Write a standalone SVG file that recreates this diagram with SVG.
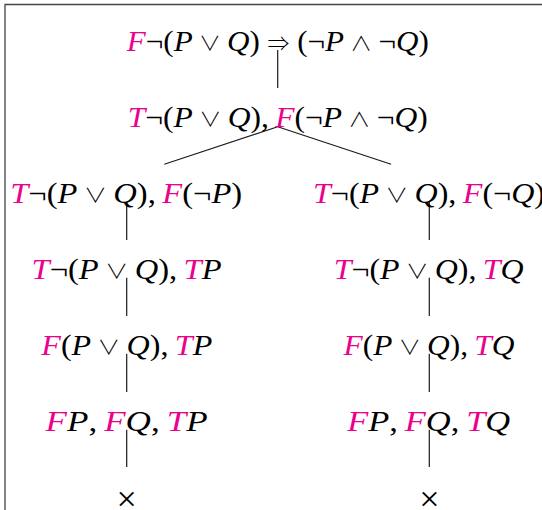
<svg xmlns="http://www.w3.org/2000/svg" width="542" height="510" viewBox="0 0 542 510">
<style>
.t{font-family:"Liberation Serif","DejaVu Serif",serif;font-size:28.5px;fill:#000}
.v{font-style:italic}
.m{font-style:italic;fill:#EC008C}
.o{font-family:"Noto Sans CJK JP","DejaVu Serif",sans-serif;font-size:20px;font-weight:300}
.x{font-family:"Liberation Serif","DejaVu Serif",serif;font-size:36px;fill:#000}
.e{stroke:#1a1a1a;stroke-width:1.2;fill:none}
.frame{stroke:#444;stroke-width:1.3;fill:none}
</style>
<rect width="542" height="510" fill="#fff"/>
<path class="frame" d="M5,510 V4.5 H542"/>
<g id="connectors">
<line class="e" x1="277.7" y1="50" x2="277.7" y2="88"/>
<line class="e" x1="277.7" y1="126.7" x2="164.3" y2="164.3"/>
<line class="e" x1="277.7" y1="126.7" x2="391.1" y2="164.3"/>
<line class="e" x1="126.7" y1="201.7" x2="126.7" y2="240"/>
<line class="e" x1="126.7" y1="277.7" x2="126.7" y2="316"/>
<line class="e" x1="126.7" y1="353.7" x2="126.7" y2="392"/>
<line class="e" x1="126.7" y1="429.7" x2="126.7" y2="467"/>
<line class="e" x1="429.3" y1="201.7" x2="429.3" y2="240"/>
<line class="e" x1="429.3" y1="277.7" x2="429.3" y2="316"/>
<line class="e" x1="429.3" y1="353.7" x2="429.3" y2="392"/>
<line class="e" x1="429.3" y1="429.7" x2="429.3" y2="467"/>
</g>
<g id="n1"><text class="t" x="277.8" y="50.7" text-anchor="middle" textLength="302" lengthAdjust="spacingAndGlyphs"><tspan class="m">F</tspan>¬(<tspan class="v">P</tspan>&#8201;<tspan class="o">∨</tspan>&#8201;<tspan class="v">Q</tspan>) <tspan class="o">⇒</tspan> (¬<tspan class="v">P</tspan>&#8201;<tspan class="o">∧</tspan>&#8201;¬<tspan class="v">Q</tspan>)</text></g>
<g id="n2"><text class="t" x="277.8" y="126.7" text-anchor="middle" textLength="300" lengthAdjust="spacingAndGlyphs"><tspan class="m">T</tspan>¬(<tspan class="v">P</tspan>&#8201;<tspan class="o">∨</tspan>&#8201;<tspan class="v">Q</tspan>),&#8201;<tspan class="m">F</tspan>(¬<tspan class="v">P</tspan>&#8201;<tspan class="o">∧</tspan>&#8201;¬<tspan class="v">Q</tspan>)</text></g>
<g id="n3L"><text class="t" x="126.2" y="202.7" text-anchor="middle" textLength="232" lengthAdjust="spacingAndGlyphs"><tspan class="m">T</tspan>¬(<tspan class="v">P</tspan>&#8201;<tspan class="o">∨</tspan>&#8201;<tspan class="v">Q</tspan>),&#8201;<tspan class="m">F</tspan>(¬<tspan class="v">P</tspan>)</text></g>
<g id="n3R"><text class="t" x="429" y="202.7" text-anchor="middle" textLength="232" lengthAdjust="spacingAndGlyphs"><tspan class="m">T</tspan>¬(<tspan class="v">P</tspan>&#8201;<tspan class="o">∨</tspan>&#8201;<tspan class="v">Q</tspan>),&#8201;<tspan class="m">F</tspan>(¬<tspan class="v">Q</tspan>)</text></g>
<g id="n4L"><text class="t" x="126.6" y="278.7" text-anchor="middle" textLength="190" lengthAdjust="spacingAndGlyphs"><tspan class="m">T</tspan>¬(<tspan class="v">P</tspan>&#8201;<tspan class="o">∨</tspan>&#8201;<tspan class="v">Q</tspan>),&#8201;<tspan class="m">T</tspan><tspan class="v">P</tspan></text></g>
<g id="n4R"><text class="t" x="428.7" y="278.7" text-anchor="middle" textLength="190" lengthAdjust="spacingAndGlyphs"><tspan class="m">T</tspan>¬(<tspan class="v">P</tspan>&#8201;<tspan class="o">∨</tspan>&#8201;<tspan class="v">Q</tspan>),&#8201;<tspan class="m">T</tspan><tspan class="v">Q</tspan></text></g>
<g id="n5L"><text class="t" x="126.8" y="354.7" text-anchor="middle" textLength="171" lengthAdjust="spacingAndGlyphs"><tspan class="m">F</tspan>(<tspan class="v">P</tspan>&#8201;<tspan class="o">∨</tspan>&#8201;<tspan class="v">Q</tspan>),&#8201;<tspan class="m">T</tspan><tspan class="v">P</tspan></text></g>
<g id="n5R"><text class="t" x="429" y="354.7" text-anchor="middle" textLength="171" lengthAdjust="spacingAndGlyphs"><tspan class="m">F</tspan>(<tspan class="v">P</tspan>&#8201;<tspan class="o">∨</tspan>&#8201;<tspan class="v">Q</tspan>),&#8201;<tspan class="m">T</tspan><tspan class="v">Q</tspan></text></g>
<g id="n6L"><text class="t" x="126.6" y="430.7" text-anchor="middle" textLength="162" lengthAdjust="spacingAndGlyphs"><tspan class="m">F</tspan><tspan class="v">P</tspan>,&#8201;<tspan class="m">F</tspan><tspan class="v">Q</tspan>,&#8201;<tspan class="m">T</tspan><tspan class="v">P</tspan></text></g>
<g id="n6R"><text class="t" x="428.7" y="430.7" text-anchor="middle" textLength="163" lengthAdjust="spacingAndGlyphs"><tspan class="m">F</tspan><tspan class="v">P</tspan>,&#8201;<tspan class="m">F</tspan><tspan class="v">Q</tspan>,&#8201;<tspan class="m">T</tspan><tspan class="v">Q</tspan></text></g>
<g id="n7L"><text class="x" x="126.7" y="511" text-anchor="middle">×</text></g>
<g id="n7R"><text class="x" x="429.3" y="511" text-anchor="middle">×</text></g>
</svg>
